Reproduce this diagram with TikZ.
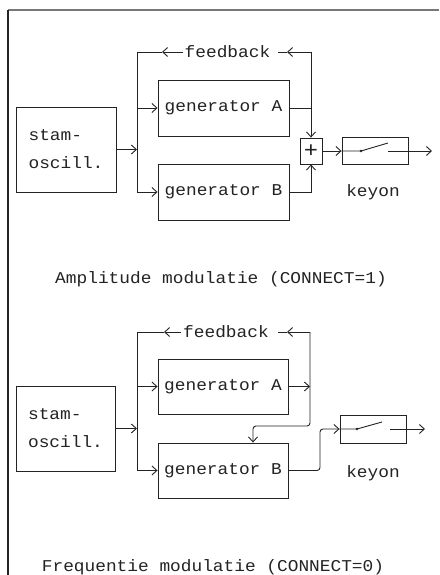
\documentclass[tikz,border=0pt]{standalone}
\usepackage{fontspec}
\newfontfamily\plotfont[FakeStretch=1.08]{Liberation Mono}
\newcommand\plottxt{\plotfont\fontsize{16.5}{28}\selectfont}
\usetikzlibrary{arrows.meta}
\definecolor{ink}{RGB}{35,35,35}
\definecolor{framegray}{RGB}{120,120,120}
\tikzset{
  wire/.style={draw=ink, line width=0.9pt},
  arr/.style={wire, -{Straight Barb[length=5pt,width=9pt,line width=0.9pt]}},
  box/.style={draw=ink, line width=0.9pt, minimum width=131pt, minimum height=56pt, inner sep=0pt, font=\plottxt, text=ink},
  stambox/.style={box, minimum width=100pt, minimum height=85pt, align=left},
  plusbox/.style={box, minimum width=22pt, minimum height=26pt, font=\plotfont\fontsize{22}{22}\selectfont},
  keybox/.style={box, minimum width=66pt, minimum height=27pt},
  lbl/.style={font=\plottxt, text=ink, inner sep=2pt},
  swdot/.style={circle, fill=ink, inner sep=0pt, minimum size=2.6pt},
}
\begin{document}
\begin{tikzpicture}[x=1pt,y=-1pt]
\useasboundingbox (0,0) rectangle (439,575);
\fill[white] (0,0) rectangle (439,575);
% frame
\draw[framegray, line width=1.5pt] (439,10) -- (8,10);
\draw[ink, line width=2pt] (8,10) -- (8,575);

% ===== top: amplitude modulation =====
\node[stambox] (stam1) at (66,149.5) {stam-\\oscill.};
\node[box] (genA1) at (223.5,108) {generator A};
\node[box] (genB1) at (223.5,192) {generator B};
\node[plusbox] (plus1) at (311,151) {+};
\node[keybox] (key1) at (375,151) {};
\node[lbl] (fb1) at (227.5,52) {feedback};
\node[lbl] (k1) at (373,192) {keyon};
\node[lbl] (cap1) at (221,279) {Amplitude modulatie (CONNECT=1)};
\coordinate (bus1t) at (137,52);
\coordinate (fbR1) at (311,52);
\coordinate (fa1) at (162,52);
\coordinate (fb1r) at (287,52);
\coordinate (fe1) at (278,52);
\draw[arr] (fb1.west) -- (fa1);
\draw[wire] (fa1) -- (bus1t);
\draw[arr] (fbR1) -- (fb1r);
\draw[wire] (fb1r) -- (fe1);
\draw[arr] (stam1.east) -- (stam1.east -| bus1t);
\draw[arr] (bus1t) |- (genB1.west);
\draw[arr] (genA1.west -| bus1t) -- (genA1.west);
\draw[arr] (fbR1) -- (plus1.north);
\draw[wire] (genA1.east) -- (genA1.east -| plus1);
\draw[arr] (genB1.east) -| (plus1.south);
\draw[arr] (plus1.east) -- (key1.west);
\node[swdot] (d1) at (361,151) {};
\coordinate (s1) at (388,143);
\coordinate (s1b) at (388,151);
\coordinate (o1) at (432,151);
\draw[wire] (key1.west) -- (d1.center) -- (s1);
\draw[arr] (s1b) -- (o1);

% ===== bottom: frequency modulation =====
\node[stambox, minimum width=99pt] (stam2) at (65.5,428.5) {stam-\\oscill.};
\node[box, minimum width=130pt, minimum height=55pt] (genA2) at (223,386.5) {generator A};
\node[box, minimum width=130pt, minimum height=55pt] (genB2) at (223,470.5) {generator B};
\node[keybox, minimum height=28pt] (key2) at (373,429) {};
\node[lbl] (fb2) at (226,332) {feedback};
\node[lbl] (k2) at (373,473) {keyon};
\node[lbl] (cap2) at (213,567) {Frequentie modulatie (CONNECT=0)};
\coordinate (bus2t) at (137,332);
\coordinate (fbR2) at (310,332);
\coordinate (fa2) at (164,332);
\coordinate (fb2r) at (287,332);
\coordinate (fe2) at (278,332);
\coordinate (c2) at (253,426);
\coordinate (j2) at (320,429);
\draw[arr] (fb2.west) -- (fa2);
\draw[wire] (fa2) -- (bus2t);
\draw[arr] (fbR2) -- (fb2r);
\draw[wire] (fb2r) -- (fe2);
\draw[arr] (stam2.east) -- (stam2.east -| bus2t);
\draw[arr] (bus2t) |- (genB2.west);
\draw[arr] (genA2.west -| bus2t) -- (genA2.west);
\draw[arr, rounded corners=3pt] (fbR2) |- (c2) -- (c2 |- genB2.north);
\draw[arr] (genA2.east) -- (genA2.east -| fbR2);
\draw[arr, rounded corners=3pt] (genB2.east) -| (j2) -- (key2.west);
\node[swdot] (d2) at (357,429) {};
\coordinate (s2) at (382,422);
\coordinate (s2b) at (390,429);
\coordinate (o2) at (425,429);
\draw[wire] (key2.west) -- (d2.center) -- (s2);
\draw[arr] (s2b) -- (o2);
\end{tikzpicture}
\end{document}
